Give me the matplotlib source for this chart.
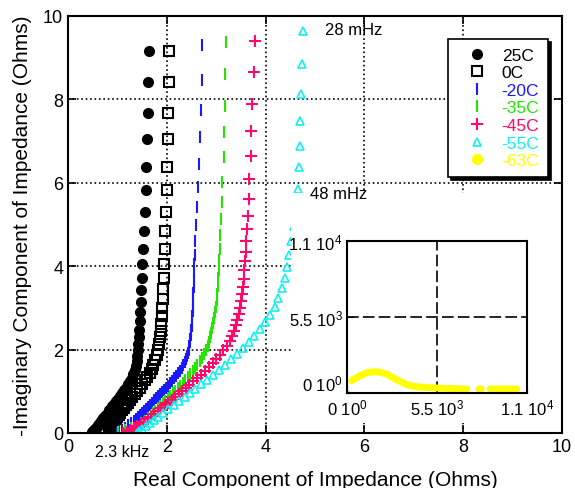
import matplotlib
matplotlib.use("Agg")
import matplotlib.pyplot as plt
from matplotlib.patches import Rectangle
import numpy as np

plt.rcParams['font.family'] = ['Liberation Sans', 'DejaVu Sans']
plt.rcParams['mathtext.default'] = 'regular'

# 25C
x25 = [1.63, 1.62, 1.61, 1.6, 1.58, 1.57, 1.55, 1.54, 1.52, 1.5,
       1.49, 1.48, 1.47, 1.46, 1.45, 1.44, 1.43, 1.42, 1.41, 1.40,
       1.39, 1.37, 1.35, 1.32, 1.29, 1.25, 1.21, 1.17, 1.13, 1.09,
       1.05, 1.01, 0.97, 0.93, 0.89, 0.86, 0.83, 0.80, 0.77, 0.74,
       0.71, 0.68, 0.66, 0.64, 0.62, 0.60, 0.58, 0.56, 0.54, 0.52,
       0.51, 0.50, 0.49, 0.48]
y25 = [9.16, 8.41, 7.67, 7.04, 6.39, 5.82, 5.31, 4.85, 4.42, 4.05,
       3.72, 3.42, 3.15, 2.9, 2.68, 2.48, 2.3, 2.13, 1.98, 1.84,
       1.72, 1.61, 1.51, 1.42, 1.33, 1.25, 1.17, 1.09, 1.02, 0.95,
       0.88, 0.82, 0.76, 0.70, 0.64, 0.59, 0.54, 0.49, 0.44, 0.40,
       0.36, 0.32, 0.28, 0.24, 0.21, 0.18, 0.15, 0.12, 0.09, 0.07,
       0.05, 0.03, 0.02, 0.01]
# 0C
x0 = [2.05, 2.04, 2.03, 2.02, 2.01, 2.0, 1.99, 1.97, 1.96, 1.95,
      1.94, 1.93, 1.92, 1.91, 1.90, 1.89, 1.88, 1.87, 1.85, 1.83,
      1.80, 1.77, 1.73, 1.69, 1.65, 1.60, 1.55, 1.50, 1.45, 1.40,
      1.35, 1.30, 1.26, 1.22, 1.18, 1.14, 1.10, 1.06, 1.03, 1.0,
      0.97, 0.94, 0.92, 0.90, 0.88, 0.86, 0.85, 0.84, 0.83, 0.82]
y0 = [9.16, 8.41, 7.67, 7.04, 6.39, 5.82, 5.31, 4.85, 4.42, 4.05,
      3.72, 3.45, 3.22, 3.0, 2.8, 2.62, 2.45, 2.29, 2.14, 2.0,
      1.87, 1.75, 1.64, 1.54, 1.44, 1.35, 1.26, 1.17, 1.09, 1.01,
      0.93, 0.86, 0.79, 0.72, 0.66, 0.60, 0.54, 0.48, 0.43, 0.38,
      0.33, 0.28, 0.24, 0.20, 0.16, 0.12, 0.09, 0.06, 0.03, 0.01]
# -20C
x20 = [2.71, 2.71, 2.69, 2.68, 2.66, 2.63, 2.61, 2.6, 2.58, 2.57,
       2.56, 2.555, 2.55, 2.545, 2.54, 2.535, 2.53, 2.52, 2.515, 2.51,
       2.5, 2.49, 2.48, 2.47, 2.46, 2.45, 2.44, 2.42, 2.40, 2.38,
       2.36, 2.33, 2.30, 2.26, 2.22, 2.18, 2.14, 2.10, 2.06, 2.02,
       1.98, 1.94, 1.90, 1.86, 1.82, 1.78, 1.74, 1.70, 1.66, 1.62,
       1.58, 1.54, 1.50, 1.46, 1.42, 1.38, 1.33, 1.28, 1.22, 1.16,
       1.10, 1.04, 0.99]
y20 = [9.3, 8.46, 7.74, 7.09, 6.44, 5.89, 5.41, 4.98, 4.6, 4.26,
       4.05, 3.86, 3.68, 3.51, 3.35, 3.2, 3.06, 2.93, 2.8, 2.68,
       2.57, 2.46, 2.36, 2.26, 2.17, 2.08, 2.0, 1.92, 1.84, 1.77,
       1.7, 1.63, 1.56, 1.49, 1.43, 1.37, 1.31, 1.25, 1.19, 1.13,
       1.08, 1.03, 0.98, 0.93, 0.88, 0.83, 0.78, 0.73, 0.68, 0.63,
       0.58, 0.53, 0.48, 0.43, 0.38, 0.33, 0.28, 0.23, 0.18, 0.13,
       0.08, 0.04, 0.01]
# -35C
x35 = [3.2, 3.17, 3.17, 3.15, 3.15, 3.12, 3.12, 3.1, 3.08, 3.07,
       3.06, 3.05, 3.04, 3.03, 3.02, 3.01, 3.0, 2.98, 2.96, 2.94,
       2.92, 2.9, 2.88, 2.86, 2.83, 2.8, 2.76, 2.72, 2.67, 2.62,
       2.57, 2.52, 2.47, 2.42, 2.37, 2.32, 2.27, 2.22, 2.17, 2.12,
       2.07, 2.02, 1.97, 1.92, 1.87, 1.82, 1.77, 1.72, 1.67, 1.62,
       1.56, 1.48, 1.39, 1.28, 1.16, 1.02]
y35 = [9.37, 8.61, 7.84, 7.21, 6.61, 6.01, 5.53, 5.12, 4.75, 4.42,
       4.15, 3.92, 3.71, 3.52, 3.34, 3.18, 3.03, 2.89, 2.76, 2.63,
       2.51, 2.4, 2.29, 2.19, 2.09, 1.99, 1.9, 1.81, 1.72, 1.64,
       1.56, 1.48, 1.41, 1.34, 1.27, 1.2, 1.13, 1.07, 1.01, 0.95,
       0.89, 0.83, 0.77, 0.71, 0.65, 0.59, 0.53, 0.47, 0.41, 0.35,
       0.29, 0.23, 0.17, 0.11, 0.06, 0.02]
# -45C
x45 = [3.78, 3.76, 3.72, 3.70, 3.70, 3.67, 3.67, 3.64, 3.62, 3.61,
       3.6, 3.59, 3.57, 3.56, 3.55, 3.53, 3.51, 3.49, 3.46, 3.43,
       3.40, 3.36, 3.32, 3.27, 3.21, 3.14, 3.07, 3.0, 2.93, 2.85,
       2.77, 2.69, 2.61, 2.53, 2.45, 2.38, 2.31, 2.24, 2.17, 2.10,
       2.03, 1.96, 1.89, 1.82, 1.75, 1.68, 1.61, 1.54, 1.47, 1.40,
       1.33, 1.26, 1.19, 1.12]
y45 = [9.41, 8.65, 7.88, 7.24, 6.65, 6.1, 5.6, 5.2, 4.88, 4.6,
       4.35, 4.12, 3.9, 3.7, 3.51, 3.33, 3.16, 3.0, 2.85, 2.71,
       2.58, 2.45, 2.33, 2.21, 2.09, 1.98, 1.87, 1.77, 1.67, 1.58,
       1.49, 1.40, 1.32, 1.24, 1.16, 1.08, 1.01, 0.94, 0.87, 0.80,
       0.73, 0.66, 0.59, 0.52, 0.45, 0.39, 0.33, 0.27, 0.21, 0.16,
       0.11, 0.07, 0.03, 0.0]
# -55C
x55 = [4.76, 4.74, 4.72, 4.70, 4.70, 4.68, 4.66, 4.62, 4.57, 4.52,
       4.48, 4.44, 4.39, 4.33, 4.26, 4.18, 4.09, 3.99, 3.88, 3.77,
       3.66, 3.54, 3.42, 3.30, 3.18, 3.06, 2.94, 2.82, 2.70, 2.58,
       2.47, 2.36, 2.25, 2.14, 2.03, 1.93, 1.83, 1.74, 1.65, 1.57,
       1.50, 1.44, 1.39]
y55 = [9.64, 8.85, 8.13, 7.48, 6.88, 6.37, 5.84, 5.38, 4.96, 4.6,
       4.28, 3.99, 3.72, 3.47, 3.24, 3.03, 2.84, 2.66, 2.49, 2.33,
       2.18, 2.04, 1.9, 1.77, 1.64, 1.52, 1.40, 1.28, 1.17, 1.06,
       0.96, 0.86, 0.76, 0.66, 0.57, 0.48, 0.39, 0.31, 0.23, 0.16,
       0.1, 0.05, 0.01]
# -63C (only visible in the inset)
x63 = [287, 794, 1303, 1813, 2424, 3035, 3544, 4053, 4664, 5480, 6496, 7313, np.nan,
       8050, 8200, np.nan, 8739, 9554, 10370]
y63 = [890, 1255, 1496, 1544, 1375, 964, 651, 482, 410, 362, 314, 290, np.nan,
       290, 290, np.nan, 290, 290, 290]

blue = '#1a1aff'
green = '#22e600'
pink = '#ff0a6a'
cyan = '#10f0f0'
yellow = '#ffff00'

fig = plt.figure(figsize=(5.75, 4.89), dpi=100)
ax = fig.add_axes([0.1183, 0.1125, 0.8591, 0.8528])

ax.plot(x25, y25, 'o', color='k', ms=7, label='25C')
ax.plot(x0, y0, 's', mfc='none', mec='k', ms=6.5, mew=1.5, label='0C')
ax.plot(x20, y20, '|', color=blue, ms=8, mew=1.5, label='-20C')
ax.plot(x35, y35, '|', color=green, ms=8, mew=1.5, label='-35C')
ax.plot(x45, y45, '+', color=pink, ms=8, mew=1.5, label='-45C')
ax.plot(x55, y55, '^', mfc='none', mec=cyan, ms=6, mew=1.2, label='-55C')
ax.plot(x63, y63, 'o', ls='none', color=yellow, ms=7, label='-63C')

ax.set_xlim(0, 10)
ax.set_ylim(0, 10)
ax.set_xticks(range(0, 11, 2))
ax.set_yticks(range(0, 11, 2))
ax.grid(True, ls=':', color='k', lw=1.2)
ax.tick_params(direction='in', top=True, right=True, length=6, width=1.2, labelsize=13)
for s in ax.spines.values():
    s.set_linewidth(1.5)
ax.set_xlabel('Real Component of Impedance (Ohms)', fontsize=15, labelpad=11)
ax.set_ylabel('-Imaginary Component of Impedance (Ohms)', fontsize=15, labelpad=8)

# white area behind the inset
ax.add_patch(Rectangle((0.451, 0.024), 0.549, 0.552, transform=ax.transAxes,
                       fc='white', ec='none', zorder=2.4))

ax.text(5.2, 9.68, '28 mHz', fontsize=12, va='center', zorder=3)
ax.text(4.9, 5.75, '48 mHz', fontsize=12, va='center', zorder=3)
ax.text(0.55, -0.45, '2.3 kHz', fontsize=11.5, va='center', clip_on=False)

leg = ax.legend(loc='upper right', bbox_to_anchor=(0.972, 0.945), borderaxespad=0,
                fontsize=12.5, labelspacing=0.14, handlelength=2.4, handletextpad=0.2,
                borderpad=0.5, fancybox=False, edgecolor='k', framealpha=1,
                shadow={'color': 'black', 'alpha': 1})
leg.get_frame().set_linewidth(1.2)
for t, c in zip(leg.get_texts(), ['k', 'k', blue, green, pink, cyan, yellow]):
    t.set_color(c)

# inset
ax2 = fig.add_axes([347 / 575, 95 / 489, 180 / 575, 152 / 489])
ax2.plot(x63, y63, '-', color=yellow, lw=5, solid_capstyle='round')
for xs, ys, c in [(x25, y25, 'k'), (x20, y20, blue), (x35, y35, green),
                  (x45, y45, pink), (x55, y55, cyan)]:
    ax2.plot(xs, ys, 'o', color=c, ms=2)
ax2.set_xlim(0, 11000)
ax2.set_ylim(0, 11000)
ticks = [0, 5500, 11000]
labels = ['0 10$^0$', '5.5 10$^3$', '1.1 10$^4$']
ax2.set_xticks(ticks)
ax2.set_xticklabels(labels)
ax2.set_yticks(ticks)
ax2.set_yticklabels(labels)
ax2.get_yticklabels()[0].set_va('bottom')
ax2.grid(True, color='k', lw=1.2, ls=(0, (7, 2.5)))
ax2.tick_params(direction='in', length=4, labelsize=12, pad=3)
for s in ax2.spines.values():
    s.set_linewidth(1.5)

fig.savefig('out.png', dpi=100)
